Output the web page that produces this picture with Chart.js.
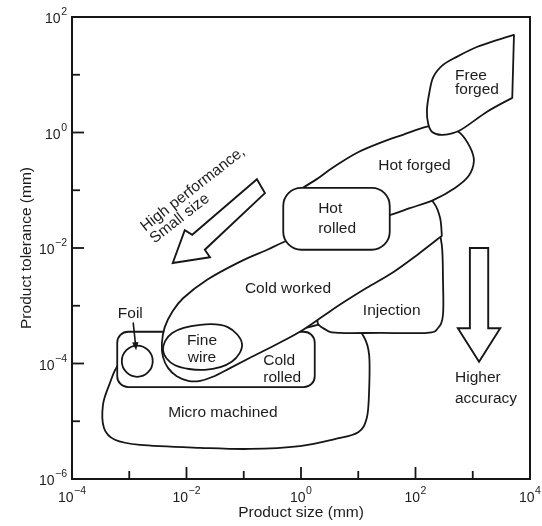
<!DOCTYPE html>
<html>
<head>
<meta charset="utf-8">
<script src="https://cdn.jsdelivr.net/npm/chart.js@4/dist/chart.umd.min.js"></script>
<style>
  html, body { margin: 0; padding: 0; background: #fff; }
  #wrap { width: 542px; height: 526px; position: relative; }
</style>
</head>
<body>
<div id="wrap"><canvas id="c"></canvas></div>
<script>
// Process capability map: achievable product tolerance against product size.
// Both axes are in decades, i.e. log10 of the value in mm.
const xTickExponents = [-4, -2, 0, 2, 4];
const yTickExponents = [-6, -4, -2, 0, 2];

// Region outlines as [log10 size, log10 tolerance] pairs.
// A repeated pair marks a sharp corner in the outline.
const microMachined = [
  [1.10, -3.54], [0.94, -3.42], [0.42, -3.32], [-0.02, -3.40], [-1.76, -3.68], [-2.81, -3.77],
  [-3.18, -4.01], [-3.35, -4.37], [-3.46, -4.72], [-3.44, -5.12], [-3.25, -5.32], [-2.81, -5.41],
  [-1.76, -5.46], [-0.89, -5.48], [-0.02, -5.43], [0.59, -5.31], [1.00, -5.19], [1.15, -4.94],
  [1.19, -4.46], [1.19, -3.85]
];
const coldRolled = [[-3.21, -3.45], [0.24, -3.45], [0.24, -4.41], [-3.21, -4.41]];
const injection = [
  [2.22, -1.17], [2.36, -1.48], [2.46, -1.95], [2.48, -2.55], [2.48, -3.16], [2.39, -3.39],
  [2.20, -3.47], [1.38, -3.47], [0.68, -3.47], [0.44, -3.42], [0.30, -3.21], [0.77, -2.64],
  [1.64, -1.95], [2.10, -1.30]
];
const coldWorked = [
  [2.46, -1.79], [2.46, -1.79], [2.03, -2.12], [1.61, -2.42], [1.15, -2.69], [0.73, -2.95], [0.37, -3.19],
  [-0.02, -3.45], [-0.45, -3.68], [-0.89, -3.90], [-1.24, -4.08], [-1.54, -4.23], [-1.76, -4.30],
  [-1.97, -4.30], [-2.17, -4.22], [-2.32, -4.08], [-2.41, -3.89], [-2.43, -3.65], [-2.38, -3.37],
  [-2.25, -3.11], [-2.06, -2.87], [-1.64, -2.55], [-1.07, -2.24], [-0.59, -2.03], [-0.31, -1.90],
  [0.51, -1.55], [1.55, -1.31], [2.17, -1.17], [2.32, -1.22], [2.43, -1.48]
];
const fineWire = [
  [-2.41, -3.77], [-2.25, -3.47], [-1.76, -3.33], [-1.28, -3.37],
  [-1.03, -3.66], [-1.21, -3.97], [-1.68, -4.11], [-2.20, -4.03]
];
const foil = [
  [-2.59, -3.96], [-2.67, -3.77], [-2.86, -3.69], [-3.05, -3.77],
  [-3.13, -3.96], [-3.05, -4.15], [-2.86, -4.23], [-2.67, -4.15]
];
const hotForged = [
  [-0.19, -1.17], [0.33, -0.77], [0.63, -0.56], [0.98, -0.35], [1.38, -0.18], [1.78, -0.04],
  [2.20, 0.10], [2.52, 0.13], [2.78, -0.01], [2.95, -0.25], [3.02, -0.49], [2.93, -0.75],
  [2.69, -0.96], [2.31, -1.17], [1.90, -1.31], [1.55, -1.43], [1.03, -1.55], [0.33, -1.43]
];
const hotRolled = [[-0.31, -0.96], [1.55, -0.96], [1.55, -2.03], [-0.31, -2.03]];
const freeForged = [
  [3.72, 1.69], [3.72, 1.69], [3.69, 0.60], [3.69, 0.60], [3.25, 0.36], [2.78, 0.04],
  [2.48, -0.04], [2.29, 0.01], [2.22, 0.16], [2.20, 0.39], [2.24, 0.68], [2.31, 0.96],
  [2.48, 1.17], [2.72, 1.31], [3.07, 1.48], [3.42, 1.60]
];

// Regions in painting order; later ones are filled white over earlier ones.
const regions = [
  { label: 'Micro machined', outline: microMachined, path: 'spline' },
  { label: 'Cold rolled', outline: coldRolled, path: 'rounded', radius: 11 },
  { label: 'Injection', outline: injection, path: 'spline' },
  { label: 'Cold worked', outline: coldWorked, path: 'spline' },
  { label: 'Fine wire', outline: fineWire, path: 'spline' },
  { label: 'Foil', outline: foil, path: 'spline' },
  { label: 'Hot forged', outline: hotForged, path: 'spline' },
  { label: 'Hot rolled', outline: hotRolled, path: 'rounded', radius: 18 },
  { label: 'Free forged', outline: freeForged, path: 'spline' }
];

// Text labels: first baseline anchor in axis units.
const regionLabels = [
  { lines: ['Free', 'forged'], at: [2.69, 0.91], align: 'left', lineHeight: 14 },
  { lines: ['Hot forged'], at: [1.35, -0.65], align: 'left' },
  { lines: ['Hot', 'rolled'], at: [0.30, -1.39], align: 'left', lineHeight: 20 },
  { lines: ['Cold worked'], at: [-0.98, -2.78], align: 'left' },
  { lines: ['Injection'], at: [1.08, -3.16], align: 'left' },
  { lines: ['Cold', 'rolled'], at: [-0.66, -4.03], align: 'left', lineHeight: 17 },
  { lines: ['Fine', 'wire'], at: [-1.73, -3.68], align: 'center', lineHeight: 17 },
  { lines: ['Foil'], at: [-3.20, -3.21], align: 'left' },
  { lines: ['Micro machined'], at: [-2.32, -4.93], align: 'left' },
  { lines: ['Higher', 'accuracy'], at: [2.69, -4.32], align: 'left', lineHeight: 21 }
];

// Hollow trend arrows and the pointer to the foil circle.
const trendArrows = [
  [[-2.24, -2.26], [-2.03, -1.69], [-1.90, -1.77], [-0.77, -0.81], [-0.63, -1.05], [-1.68, -2.03], [-1.59, -2.16]],
  [[2.95, -2.00], [3.27, -2.00], [3.27, -3.39], [3.48, -3.39], [3.11, -3.97], [2.74, -3.39], [2.95, -3.39]]
];
const trendText = { lines: ['High performance,', 'Small size'], at: [-2.72, -1.72], angleDeg: -38, lineHeight: 15 };
const foilPointer = { from: [-2.93, -3.30], to: [-2.88, -3.77] };

const INK = '#161616';
const TEXT = '#1c1c1c';
const FAMILY = '"Liberation Sans", Arial, Helvetica, sans-serif';

function samePoint(a, b) { return Math.abs(a[0] - b[0]) < 0.01 && Math.abs(a[1] - b[1]) < 0.01; }

// Closed Catmull-Rom spline through the outline points.
function splinePath(ctx, pts) {
  const n = pts.length;
  ctx.moveTo(pts[0][0], pts[0][1]);
  for (let i = 0; i < n; i++) {
    const p0 = pts[(i - 1 + n) % n], p1 = pts[i], p2 = pts[(i + 1) % n], p3 = pts[(i + 2) % n];
    if (samePoint(p1, p2)) continue;
    const k = 1 / 6;
    ctx.bezierCurveTo(
      p1[0] + (p2[0] - p0[0]) * k, p1[1] + (p2[1] - p0[1]) * k,
      p2[0] - (p3[0] - p1[0]) * k, p2[1] - (p3[1] - p1[1]) * k,
      p2[0], p2[1]
    );
  }
  ctx.closePath();
}

function roundedPath(ctx, pts, r) {
  const n = pts.length;
  const mid = (a, b) => [(a[0] + b[0]) / 2, (a[1] + b[1]) / 2];
  const s = mid(pts[n - 1], pts[0]);
  ctx.moveTo(s[0], s[1]);
  for (let i = 0; i < n; i++) {
    const p = pts[i], m = mid(p, pts[(i + 1) % n]);
    ctx.arcTo(p[0], p[1], m[0], m[1], r);
  }
  ctx.closePath();
}

function polygonPath(ctx, pts) {
  ctx.moveTo(pts[0][0], pts[0][1]);
  for (let i = 1; i < pts.length; i++) ctx.lineTo(pts[i][0], pts[i][1]);
  ctx.closePath();
}

const mapPlugin = {
  id: 'processMap',
  afterDatasetsDraw(chart) {
    const { ctx, scales: { x, y } } = chart;
    const px = (p) => [x.getPixelForValue(p[0]), y.getPixelForValue(p[1])];
    ctx.save();
    ctx.lineJoin = 'round';
    ctx.lineCap = 'round';
    ctx.strokeStyle = INK;

    // Regions
    chart.data.datasets.forEach((ds) => {
      const pts = ds.data.map((d) => px([d.x, d.y]));
      ctx.beginPath();
      if (ds.pathKind === 'rounded') roundedPath(ctx, pts, ds.cornerRadius);
      else splinePath(ctx, pts);
      ctx.fillStyle = '#fff';
      ctx.fill();
      ctx.lineWidth = 1.8;
      ctx.stroke();
    });

    // Trend arrows
    ctx.lineJoin = 'miter';
    trendArrows.forEach((a) => {
      ctx.beginPath();
      polygonPath(ctx, a.map(px));
      ctx.lineWidth = 1.9;
      ctx.stroke();
    });

    // Foil pointer
    const f0 = px(foilPointer.from), f1 = px(foilPointer.to);
    const ang = Math.atan2(f1[1] - f0[1], f1[0] - f0[0]);
    ctx.beginPath();
    ctx.moveTo(f0[0], f0[1]);
    ctx.lineTo(f1[0] - 6 * Math.cos(ang), f1[1] - 6 * Math.sin(ang));
    ctx.lineWidth = 1.6;
    ctx.stroke();
    ctx.beginPath();
    ctx.moveTo(f1[0], f1[1]);
    ctx.lineTo(f1[0] - 8 * Math.cos(ang) + 3.2 * Math.sin(ang), f1[1] - 8 * Math.sin(ang) - 3.2 * Math.cos(ang));
    ctx.lineTo(f1[0] - 8 * Math.cos(ang) - 3.2 * Math.sin(ang), f1[1] - 8 * Math.sin(ang) + 3.2 * Math.cos(ang));
    ctx.closePath();
    ctx.fillStyle = INK;
    ctx.fill();

    // Labels
    ctx.fillStyle = TEXT;
    ctx.font = '15.5px ' + FAMILY;
    ctx.textBaseline = 'alphabetic';
    regionLabels.forEach((l) => {
      const p = px(l.at);
      ctx.textAlign = l.align;
      l.lines.forEach((t, i) => ctx.fillText(t, p[0], p[1] + i * (l.lineHeight || 17)));
    });

    const tp = px(trendText.at);
    ctx.save();
    ctx.translate(tp[0], tp[1]);
    ctx.rotate(trendText.angleDeg * Math.PI / 180);
    ctx.textAlign = 'left';
    trendText.lines.forEach((t, i) => ctx.fillText(t, 0, i * trendText.lineHeight));
    ctx.restore();

    ctx.restore();
  },
  afterDraw(chart) {
    const { ctx, chartArea: a, scales: { x, y } } = chart;
    ctx.save();
    ctx.strokeStyle = INK;
    ctx.lineWidth = 2;
    ctx.strokeRect(a.left, a.top, a.right - a.left, a.bottom - a.top);

    // Inward ticks at every decade, longer where labelled
    ctx.lineWidth = 1.8;
    x.ticks.forEach((t) => {
      if (t.value <= x.min || t.value >= x.max) return;
      const len = xTickExponents.includes(t.value) ? 12 : 8;
      const xp = x.getPixelForValue(t.value);
      ctx.beginPath(); ctx.moveTo(xp, a.bottom); ctx.lineTo(xp, a.bottom - len); ctx.stroke();
    });
    y.ticks.forEach((t) => {
      if (t.value <= y.min || t.value >= y.max) return;
      const len = yTickExponents.includes(t.value) ? 12 : 8;
      const yp = y.getPixelForValue(t.value);
      ctx.beginPath(); ctx.moveTo(a.left, yp); ctx.lineTo(a.left + len, yp); ctx.stroke();
    });

    // Decade labels written as 10 with a raised exponent
    ctx.fillStyle = TEXT;
    ctx.textBaseline = 'alphabetic';
    const baseFont = '14px ' + FAMILY, expFont = '10.5px ' + FAMILY;
    const measure = (e) => {
      ctx.font = baseFont; const w1 = ctx.measureText('10').width;
      ctx.font = expFont; const w2 = ctx.measureText(e).width;
      return [w1, w2];
    };
    const put = (e, left, base) => {
      const [w1] = measure(e);
      ctx.textAlign = 'left';
      ctx.font = baseFont; ctx.fillText('10', left, base);
      ctx.font = expFont; ctx.fillText(e, left + w1 + 0.5, base - 8);
    };
    const expText = (v) => (v < 0 ? '\u2212' + Math.abs(v) : String(v));
    xTickExponents.forEach((v) => {
      const e = expText(v);
      const [w1, w2] = measure(e);
      put(e, x.getPixelForValue(v) - (w1 + w2 + 0.5) / 2, a.bottom + 23);
    });
    yTickExponents.forEach((v) => {
      const e = expText(v);
      const [w1, w2] = measure(e);
      put(e, a.left - 5 - (w1 + w2 + 0.5), y.getPixelForValue(v) + 6);
    });
    ctx.restore();
  }
};

const datasets = regions.map((r) => ({
  label: r.label,
  data: r.outline.map(([sx, ty]) => ({ x: sx, y: ty })),
  pointRadius: 0,
  showLine: false,
  pathKind: r.path,
  cornerRadius: r.radius
}));

new Chart(document.getElementById('c'), {
  type: 'scatter',
  data: { datasets },
  options: {
    responsive: true,
    maintainAspectRatio: false,
    animation: false,
    events: [],
    layout: { padding: { top: 17, right: 12, left: 0, bottom: 0 } },
    plugins: { legend: { display: false }, tooltip: { enabled: false } },
    scales: {
      x: {
        type: 'linear', min: -4, max: 4,
        ticks: { stepSize: 1, display: false },
        grid: { display: false }, border: { display: false },
        title: { display: true, text: 'Product size (mm)', color: TEXT,
                 font: { family: FAMILY, size: 15.5 }, padding: { top: 0, bottom: 4 } },
        afterFit: (s) => { s.height = 47; }
      },
      y: {
        type: 'linear', min: -6, max: 2,
        ticks: { stepSize: 1, display: false },
        grid: { display: false }, border: { display: false },
        title: { display: true, text: 'Product tolerance (mm)', color: TEXT,
                 font: { family: FAMILY, size: 15.5 }, padding: { top: 17, bottom: 0 } },
        afterFit: (s) => { s.width = 72; }
      }
    }
  },
  plugins: [mapPlugin]
});
</script>
</body>
</html>
